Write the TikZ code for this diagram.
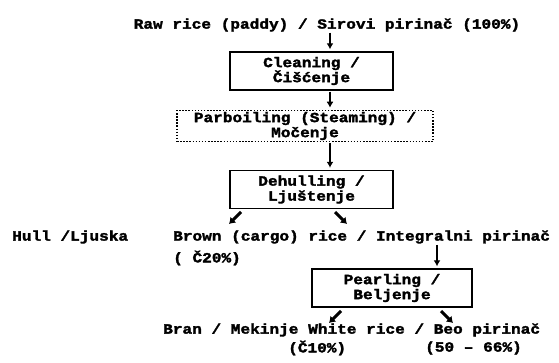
\documentclass[tikz,border=0pt]{standalone}
\usepackage{fontspec}
\newfontfamily\rf[FakeStretch=1.15, BoldFeatures={FakeBold=2.2}]{Liberation Mono}
\usetikzlibrary{arrows.meta}
\begin{document}
\begin{tikzpicture}[x=1pt,y=-1pt,
  every node/.style={font=\rf\bfseries\fontsize{14}{15}\selectfont, inner sep=0pt},
  box/.style={draw, line width=1.4pt, minimum width=163pt, minimum height=38pt, align=center},
  dbox/.style={draw, line width=1.5pt, dash pattern=on 1.5pt off 1.6pt, minimum width=256pt, minimum height=31pt, align=center},
  arr/.style={line width=1.3pt, -{Latex[length=6pt,width=7pt]}, shorten >=2pt, shorten <=1pt},
  darr/.style={line width=3pt, -{Latex[length=6pt,width=8.5pt]}},
  lbl/.style={anchor=west}
]
\fill[white] (0,0) rectangle (559,363);
\useasboundingbox (0,0) rectangle (559,363);

\node (title) at (327,25) {Raw rice (paddy) / Sirovi pirinač (100\%)};
\node[box] (clean) at (311.5,71) {Cleaning /\\Čišćenje};
\node[dbox] (parb) at (305,126) {Parboiling (Steaming) /\\Močenje};
\node[box] (dehull) at (311.5,189.5) {Dehulling /\\Ljuštenje};
\node[lbl] (hull) at (12,237) {Hull /Ljuska};
\node[lbl] (brown) at (173,237) {Brown (cargo) rice / Integralni pirinač};
\node[lbl] (brownp) at (173,258) {( Č20\%)};
\node[box, minimum width=160pt] (pearl) at (392,288) {Pearling /\\Beljenje};
\node[lbl] (bran) at (163,330) {Bran / Mekinje};
\node[lbl] (white) at (308,330) {White rice / Beo pirinač};
\node[lbl] (branp) at (288,348) {(Č10\%)};
\node[lbl] (whitep) at (425,348) {(50 – 66\%)};

\coordinate (a1) at (330,0);
\coordinate (a4) at (437,0);
\draw[arr] (title.south -| a1) -- (clean.north -| a1);
\draw[arr] (clean.south -| a1) -- (parb.north -| a1);
\draw[arr] (parb.south -| a1) -- (dehull.north -| a1);
\draw[arr] (brown.south -| a4) -- (pearl.north -| a4);

\coordinate (d1) at (241,212);
\coordinate (d1e) at (229,224);
\coordinate (d2) at (335,212);
\coordinate (d2e) at (347,224);
\draw[darr] (d1) -- (d1e);
\draw[darr] (d2) -- (d2e);
\coordinate (p1) at (341,311);
\coordinate (p1e) at (329,323);
\coordinate (p2) at (441,311);
\coordinate (p2e) at (453,323);
\draw[darr] (p1) -- (p1e);
\draw[darr] (p2) -- (p2e);
\end{tikzpicture}
\end{document}
